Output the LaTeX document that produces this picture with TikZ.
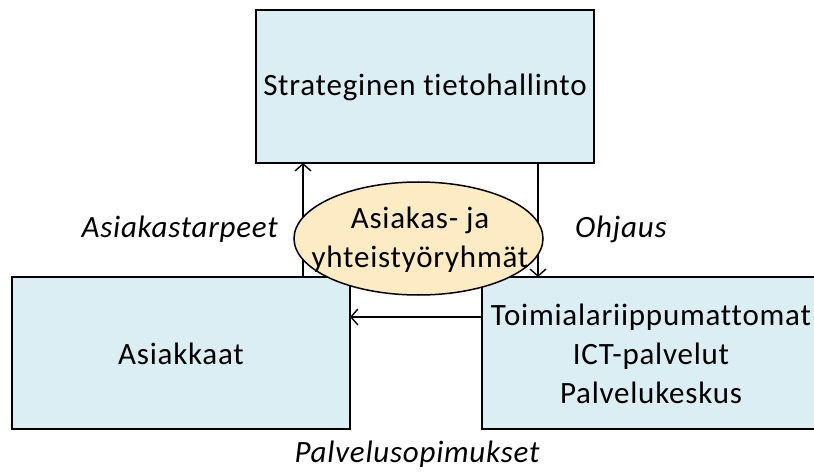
\documentclass[tikz,border=0pt]{standalone}
\usepackage{fontspec}
\setmainfont{Carlito}[LetterSpace=2.5, Ligatures={NoCommon}]
\usetikzlibrary{arrows.meta}
\definecolor{boxfill}{HTML}{DAEEF3}
\definecolor{groupfill}{HTML}{FDEBC4}
\tikzset{
  unitbox/.style={draw=black, line width=1.5pt, fill=boxfill, inner sep=0pt},
  flow/.style={line width=1.4pt, -{Straight Barb[length=7pt, width=16pt, line width=1.4pt]}},
  lbl/.style={font=\fontsize{31}{37}\selectfont\itshape, inner sep=0pt},
  txt/.style={font=\fontsize{31}{39}\selectfont, align=center, inner sep=0pt}
}
\begin{document}
\begin{tikzpicture}[x=1pt, y=-1pt]
  \useasboundingbox (0,0) rectangle (814,473);
  \clip (0,0) rectangle (814,473);
  % boxes
  \draw[unitbox] (256,10) rectangle (594,163);
  \draw[unitbox] (12,277) rectangle (350,429);
  \draw[unitbox] (482,277) rectangle (840,429);
  \node[txt] (strat) at (425,87) {Strateginen tietohallinto};
  \node[txt] (asiak) at (181,354) {Asiakkaat};
  \node[txt] (ict) at (651,354) {Toimialariippumattomat\\ICT-palvelut\\Palvelukeskus};
  % anchors for connectors
  \coordinate (aUp0) at (303,277);
  \coordinate (aUp1) at (303,163);
  \coordinate (oDn0) at (538,163);
  \coordinate (oDn1) at (538,277);
  \coordinate (pL0) at (482,317);
  \coordinate (pL1) at (350,317);
  \draw[flow] (aUp0) -- (aUp1);
  \draw[flow] (oDn0) -- (oDn1);
  \draw[flow] (pL0) -- (pL1);
  % cooperation groups
  \draw[line width=1.5pt, fill=groupfill] (418.5,238.5) ellipse [x radius=124.5, y radius=56.5];
  \node[txt] (grp) at (420,240) {Asiakas- ja\\yhteistyöryhmät};
  % flow labels
  \node[lbl, anchor=base east] (lAs) at (278,237) {Asiakastarpeet};
  \node[lbl, anchor=base west] (lOh) at (575,237) {Ohjaus};
  \node[lbl, anchor=base] (lPa) at (417,462) {Palvelusopimukset};
\end{tikzpicture}
\end{document}
